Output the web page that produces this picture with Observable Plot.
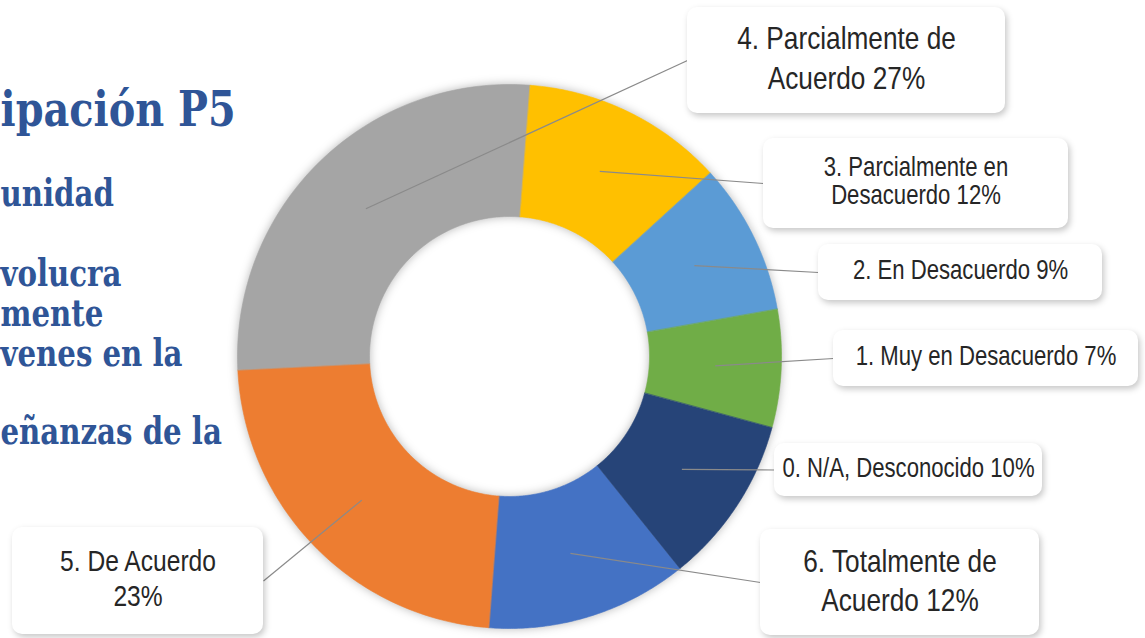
<!DOCTYPE html>
<html><head><meta charset="utf-8">
<script src="https://cdn.jsdelivr.net/npm/d3@7"></script>
<script src="https://cdn.jsdelivr.net/npm/@observablehq/plot@0.6"></script>
<style>
html,body{margin:0;padding:0;background:#fff;overflow:hidden;}
#chart svg{display:block;}
.slices{filter: drop-shadow(0px 0px 5px rgba(0,0,0,0.28));}
.boxes rect{filter: drop-shadow(2px 3px 3px rgba(0,0,0,0.22));}
</style></head><body><div id="chart"></div>
<script>
// ---- data ----
const categories = ["6. Totalmente de Acuerdo","5. De Acuerdo","4. Parcialmente de Acuerdo","3. Parcialmente en Desacuerdo","2. En Desacuerdo","1. Muy en Desacuerdo","0. N/A, Desconocido"];
const percentages = [12, 23, 27, 12, 9, 7, 10];
const sliceColors = ["#4472C4","#ED7D31","#A5A5A5","#FFC000","#5B9BD5","#70AD47","#264478"];
const titleText = ["ipación P5"];
const bodyLines = ["unidad","volucra","mente","venes en la","eñanzas de la"];

// ---- layout ----
const W = 1145, H = 638;
const cx = 509, cy = 356, R = 272, r0 = 140, startDeg = 141.2;
// callout boxes [x1,y1,x2,y2], font size, line spacing, words on first line
const calloutBoxes = [
  [760,529,1039,635],[12,527,263,634],[687,7,1005,113],[763,138,1068,228],
  [818,244,1102,300],[833,330,1138,386],[774,443,1042,496]
];
const calloutFont = [32, 30, 32, 27, 27, 27, 27];
const calloutSpacing = [39, 35, 40, 28.5, 0, 0, 0];
const calloutBreak = [3, 3, 3, 3, 0, 0, 0];
const titleBaseline = 125, titleSize = 48, titleSqueeze = 0.83;
const bodyBaselines = [205, 285, 325, 365, 443];
const bodySize = 37, bodySqueeze = 0.79;
const narrowSqueeze = 0.82;

// ---- geometry from data ----
const a0 = startDeg * Math.PI / 180;
const arcs = d3.pie().sort(null).value(d => d).startAngle(a0).endAngle(a0 + 2*Math.PI)(percentages);
const slicePts = [];
arcs.forEach((p, i) => {
  const n = 90;
  for (let k = 0; k <= n; k++) { const a = p.startAngle + (p.endAngle - p.startAngle)*k/n; slicePts.push({i, x: cx + R*Math.sin(a), y: cy - R*Math.cos(a)}); }
  for (let k = n; k >= 0; k--) { const a = p.startAngle + (p.endAngle - p.startAngle)*k/n; slicePts.push({i, x: cx + r0*Math.sin(a), y: cy - r0*Math.cos(a)}); }
});
const rm = (R + r0) / 2;
const callouts = categories.map((c, i) => {
  const p = arcs[i], a = (p.startAngle + p.endAngle)/2;
  const b = calloutBoxes[i];
  const ax = cx + rm*Math.sin(a), ay = cy - rm*Math.cos(a);
  const right = ax < b[0];
  return {i, ax, ay, bx: right ? b[0] : b[2], by: (b[1]+b[3])/2, x1: b[0], y1: b[1], x2: b[2], y2: b[3]};
});
const calloutLines = [];
categories.forEach((c, i) => {
  const b = calloutBoxes[i], fs = calloutFont[i];
  const words = (c + " " + percentages[i] + "%").split(" ");
  const lines = calloutBreak[i] ? [words.slice(0, calloutBreak[i]).join(" "), words.slice(calloutBreak[i]).join(" ")] : [words.join(" ")];
  const mid = (b[1] + b[3]) / 2 - 3;
  lines.forEach((t, j) => {
    const baseline = mid + (j - (lines.length - 1)/2) * calloutSpacing[i] + 0.36*fs;
    calloutLines.push({text: t, x: (b[0]+b[2])/2, y: baseline - 0.32*fs, fs});
  });
});

const plot = Plot.plot({
  width: W, height: H, margin: 0,
  x: {domain: [0, W], range: [0, W], axis: null},
  y: {domain: [0, H], range: [0, H], axis: null},
  color: {type: "identity"},
  marks: [
    Plot.text(titleText, {x: 0, y: titleBaseline - 0.32*titleSize, text: d => d, textAnchor: "start", lineAnchor: "middle", fontSize: titleSize, fontWeight: "bold", fontFamily: "DejaVu Serif", fill: "#2F5597", className: "title-text"}),
    Plot.text(bodyLines, {x: 0, y: (d, k) => bodyBaselines[k] - 0.32*bodySize, text: d => d, textAnchor: "start", lineAnchor: "middle", fontSize: bodySize, fontWeight: "bold", fontFamily: "DejaVu Serif", fill: "#2F5597", className: "body-text"}),
    Plot.line(slicePts, {x: "x", y: "y", z: "i", fill: d => sliceColors[d.i], stroke: d => sliceColors[d.i], strokeWidth: 0.6, curve: "linear-closed", className: "slices"}),
    Plot.link(callouts, {x1: "ax", y1: "ay", x2: "bx", y2: "by", stroke: "#8a8a8a", strokeWidth: 1.2}),
    Plot.rect(callouts, {x1: "x1", y1: "y1", x2: "x2", y2: "y2", fill: "white", rx: 10, className: "boxes"}),
    Plot.text(calloutLines, {x: "x", y: "y", text: "text", fontSize: "fs", textAnchor: "middle", lineAnchor: "middle", fill: "#262626", fontFamily: "'Liberation Sans Narrow', 'Arial Narrow', 'Liberation Sans', sans-serif", className: "callout-text"})
  ]
});
function squeeze(cls, s) {
  plot.querySelectorAll("g." + cls + " text").forEach(t => {
    const tr = t.getAttribute("transform") || "";
    t.setAttribute("transform", tr + ` scale(${s},1)`);
  });
}
squeeze("callout-text", narrowSqueeze);
squeeze("title-text", titleSqueeze);
squeeze("body-text", bodySqueeze);
document.getElementById("chart").appendChild(plot);
</script>
</body></html>
